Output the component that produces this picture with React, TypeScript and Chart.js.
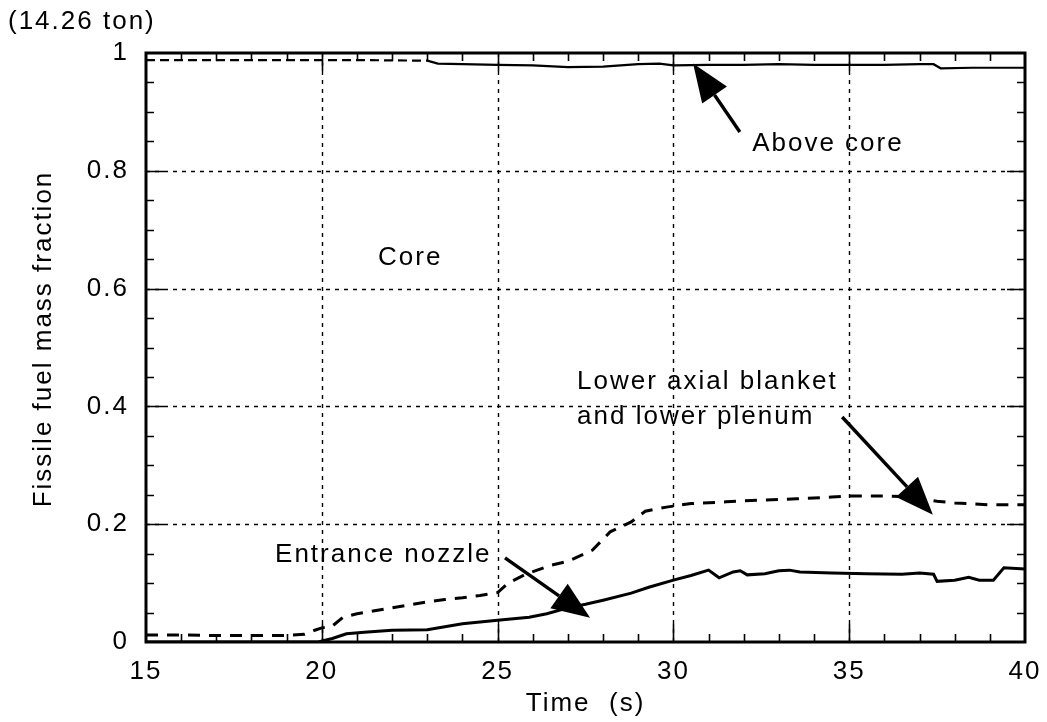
import { useEffect, useRef } from "react";
import { Chart, registerables } from "chart.js";

Chart.register(...registerables);

const FONT_FAMILY = "'Liberation Sans', Arial, Helvetica, sans-serif";
const FONT_SIZE = 26;
const LETTER_SPACING = "2px";

// Axis ranges and labelled ticks
const timeRange = [15, 40];
const fractionRange = [0, 1];
const timeMajorStep = 5;
const timeMinorStep = 1;
const fractionMajorStep = 0.2;
const fractionMinorStep = 0.05;

// Fuel above the core
const aboveCoreTime = [15, 17, 19, 21, 23, 23.3, 24, 25, 26, 27, 28, 29, 29.6, 30, 31, 32, 33, 34, 35, 36, 37, 37.4, 37.6, 38.5, 40];
const aboveCoreFraction = [0.988, 0.988, 0.988, 0.988, 0.987, 0.982, 0.981, 0.98, 0.979, 0.976, 0.977, 0.981, 0.982, 0.979, 0.98, 0.98, 0.981, 0.98, 0.98, 0.98, 0.981, 0.981, 0.974, 0.975, 0.975];

// Lower axial blanket and lower plenum
const lowerTime = [15, 16, 17, 18, 19, 19.5, 19.8, 20, 20.3, 20.6, 21, 21.5, 22, 22.5, 23, 23.5, 24, 24.5, 25, 25.3, 25.8, 26.5, 27, 27.7, 28.2, 28.8, 29.2, 29.8, 30.5, 31.5, 32.5, 33.5, 34.5, 35, 36, 36.5, 37, 37.5, 38, 39, 40];
const lowerFraction = [0.012, 0.012, 0.011, 0.011, 0.011, 0.013, 0.02, 0.024, 0.027, 0.042, 0.048, 0.053, 0.058, 0.063, 0.068, 0.072, 0.075, 0.079, 0.084, 0.1, 0.115, 0.13, 0.137, 0.156, 0.187, 0.204, 0.222, 0.229, 0.235, 0.238, 0.241, 0.243, 0.246, 0.248, 0.248, 0.247, 0.243, 0.239, 0.236, 0.233, 0.233];

// Entrance nozzle
const nozzleTime = [15, 19.9, 20.3, 20.7, 21.3, 22, 23, 23.5, 24, 25, 25.9, 26.4, 27, 27.5, 28, 28.8, 29.3, 30, 30.5, 31, 31.3, 31.7, 31.9, 32.1, 32.6, 33, 33.3, 33.6, 34.5, 35.5, 36.5, 37, 37.4, 37.5, 38, 38.4, 38.7, 39.1, 39.4, 40];
const nozzleFraction = [0, 0, 0.006, 0.014, 0.017, 0.02, 0.021, 0.026, 0.031, 0.037, 0.042, 0.048, 0.058, 0.064, 0.071, 0.083, 0.093, 0.105, 0.113, 0.122, 0.109, 0.119, 0.121, 0.114, 0.116, 0.121, 0.122, 0.119, 0.117, 0.116, 0.115, 0.117, 0.115, 0.103, 0.105, 0.11, 0.105, 0.105, 0.126, 0.124];

// Region labels (anchored at the left end of the text, in data units)
const labelTexts = ["Above core", "Core", "Lower axial blanket", "and lower plenum", "Entrance nozzle"];
const labelTime = [32.24, 21.6, 27.26, 27.26, 18.67];
const labelFraction = [0.845, 0.652, 0.441, 0.382, 0.148];

// Pointer arrows: tail -> tip, in data units
const arrowTailTime = [31.89, 34.8, 25.21];
const arrowTailFraction = [0.866, 0.382, 0.143];
const arrowTipTime = [30.56, 37.38, 27.63];
const arrowTipFraction = [0.982, 0.216, 0.041];

const massNote = "(14.26 ton)";
const xTitle = "Time  (s)";
const yTitle = "Fissile fuel mass fraction";

const toPoints = (xs: number[], ys: number[]) => xs.map((x, i) => ({ x, y: ys[i] }));

const font = `${FONT_SIZE}px ${FONT_FAMILY}`;

const frameAndNotes = {
  id: "frameAndNotes",
  beforeDraw(chart: any) {
    chart.ctx.letterSpacing = LETTER_SPACING;
  },
  beforeDatasetsDraw(chart: any) {
    const { ctx, chartArea: a, scales } = chart;
    const xs = scales.x;
    const ys = scales.y;
    ctx.save();
    ctx.strokeStyle = "#000";
    ctx.lineWidth = 1.4;
    ctx.setLineDash([4, 5]);
    for (let v = timeRange[0] + timeMajorStep; v < timeRange[1] - 1e-6; v += timeMajorStep) {
      const px = Math.round(xs.getPixelForValue(v)) + 0.5;
      ctx.beginPath();
      ctx.moveTo(px, a.top);
      ctx.lineTo(px, a.bottom);
      ctx.stroke();
    }
    for (let v = fractionRange[0] + fractionMajorStep; v < fractionRange[1] - 1e-6; v += fractionMajorStep) {
      const py = Math.round(ys.getPixelForValue(v)) + 0.5;
      ctx.beginPath();
      ctx.moveTo(a.left, py);
      ctx.lineTo(a.right, py);
      ctx.stroke();
    }
    ctx.restore();
  },
  afterDatasetsDraw(chart: any) {
    const { ctx, chartArea: a, scales } = chart;
    const xs = scales.x;
    const ys = scales.y;
    ctx.save();
    ctx.letterSpacing = LETTER_SPACING;
    ctx.strokeStyle = "#000";
    ctx.fillStyle = "#000";
    ctx.setLineDash([]);

    // inward tick marks on all four sides
    ctx.lineWidth = 1.6;
    const nX = Math.round((timeRange[1] - timeRange[0]) / timeMinorStep);
    for (let i = 1; i < nX; i++) {
      const v = timeRange[0] + i * timeMinorStep;
      const major = Math.abs(v / timeMajorStep - Math.round(v / timeMajorStep)) < 1e-6;
      const len = major ? 18 : 8;
      const px = Math.round(xs.getPixelForValue(v)) + 0.5;
      ctx.beginPath();
      ctx.moveTo(px, a.bottom);
      ctx.lineTo(px, a.bottom - len);
      ctx.moveTo(px, a.top);
      ctx.lineTo(px, a.top + len);
      ctx.stroke();
    }
    const nY = Math.round((fractionRange[1] - fractionRange[0]) / fractionMinorStep);
    for (let i = 1; i < nY; i++) {
      const v = fractionRange[0] + i * fractionMinorStep;
      const major = i % 4 === 0;
      const len = major ? 18 : 8;
      const py = Math.round(ys.getPixelForValue(v)) + 0.5;
      ctx.beginPath();
      ctx.moveTo(a.left, py);
      ctx.lineTo(a.left + len, py);
      ctx.moveTo(a.right, py);
      ctx.lineTo(a.right - len, py);
      ctx.stroke();
    }

    // plot frame
    ctx.lineWidth = 3;
    ctx.strokeRect(a.left, a.top, a.right - a.left, a.bottom - a.top);

    // arrows
    ctx.lineWidth = 3.4;
    for (let i = 0; i < arrowTailTime.length; i++) {
      const x0 = xs.getPixelForValue(arrowTailTime[i]);
      const y0 = ys.getPixelForValue(arrowTailFraction[i]);
      const x1 = xs.getPixelForValue(arrowTipTime[i]);
      const y1 = ys.getPixelForValue(arrowTipFraction[i]);
      const ang = Math.atan2(y1 - y0, x1 - x0);
      const headLen = 38;
      const halfW = 15;
      const bx = x1 - headLen * Math.cos(ang);
      const by = y1 - headLen * Math.sin(ang);
      ctx.beginPath();
      ctx.moveTo(x0, y0);
      ctx.lineTo(bx, by);
      ctx.stroke();
      ctx.beginPath();
      ctx.moveTo(x1, y1);
      ctx.lineTo(bx + halfW * Math.sin(ang), by - halfW * Math.cos(ang));
      ctx.lineTo(bx - halfW * Math.sin(ang), by + halfW * Math.cos(ang));
      ctx.closePath();
      ctx.fill();
    }

    // region labels
    ctx.font = font;
    ctx.textAlign = "left";
    ctx.textBaseline = "middle";
    for (let i = 0; i < labelTexts.length; i++) {
      ctx.fillText(labelTexts[i], xs.getPixelForValue(labelTime[i]), ys.getPixelForValue(labelFraction[i]));
    }

    // total mass note above the axis
    ctx.fillText(massNote, 8, 22);

    // y axis title, rotated
    ctx.save();
    ctx.translate(44, 339);
    ctx.rotate(-Math.PI / 2);
    ctx.textAlign = "center";
    ctx.fillText(yTitle, 0, 0);
    ctx.restore();

    ctx.restore();
  },
};

export default function App() {
  const canvasRef = useRef<HTMLCanvasElement | null>(null);

  useEffect(() => {
    const canvas = canvasRef.current;
    if (!canvas) return;
    const chart = new Chart(canvas, {
      type: "line",
      data: {
        datasets: [
          {
            label: "Above core",
            data: toPoints(aboveCoreTime, aboveCoreFraction),
            borderColor: "#000",
            borderWidth: 2.2,
            pointRadius: 0,
            segment: {
              borderDash: (c: any) => (c.p1.parsed.x <= 23 ? [9, 5] : undefined),
            },
          },
          {
            label: "Lower axial blanket and lower plenum",
            data: toPoints(lowerTime, lowerFraction),
            borderColor: "#000",
            borderWidth: 3,
            borderDash: [12, 9],
            pointRadius: 0,
          },
          {
            label: "Entrance nozzle",
            data: toPoints(nozzleTime, nozzleFraction),
            borderColor: "#000",
            borderWidth: 3,
            pointRadius: 0,
          },
        ],
      },
      options: {
        animation: false,
        responsive: false,
        maintainAspectRatio: false,
        events: [],
        layout: { padding: { top: 53, right: 22, bottom: 0, left: 0 } },
        plugins: {
          legend: { display: false },
          tooltip: { enabled: false },
        },
        scales: {
          x: {
            type: "linear",
            min: timeRange[0],
            max: timeRange[1],
            grid: { display: false },
            border: { display: false },
            ticks: {
              stepSize: timeMajorStep,
              color: "#000",
              font: { family: FONT_FAMILY, size: FONT_SIZE },
              padding: 6,
              maxRotation: 0,
            },
            title: {
              display: true,
              text: xTitle,
              color: "#000",
              font: { family: FONT_FAMILY, size: FONT_SIZE },
              padding: { top: 0, bottom: 3 },
            },
            afterFit: (s: any) => {
              s.height = 80;
            },
          },
          y: {
            type: "linear",
            min: fractionRange[0],
            max: fractionRange[1],
            grid: { display: false },
            border: { display: false },
            ticks: {
              stepSize: fractionMajorStep,
              color: "#000",
              font: { family: FONT_FAMILY, size: FONT_SIZE },
              padding: 9,
              callback: (v: any) => String(Math.round(Number(v) * 10) / 10),
            },
            title: { display: false },
            afterFit: (s: any) => {
              s.width = 146;
            },
          },
        },
      },
      plugins: [frameAndNotes],
    });
    return () => chart.destroy();
  }, []);

  return (
    <div style={{ position: "fixed", left: 0, top: 0, width: 1047, height: 722, background: "#fff" }}>
      <canvas ref={canvasRef} width={1047} height={722} style={{ width: 1047, height: 722, display: "block" }} />
    </div>
  );
}
